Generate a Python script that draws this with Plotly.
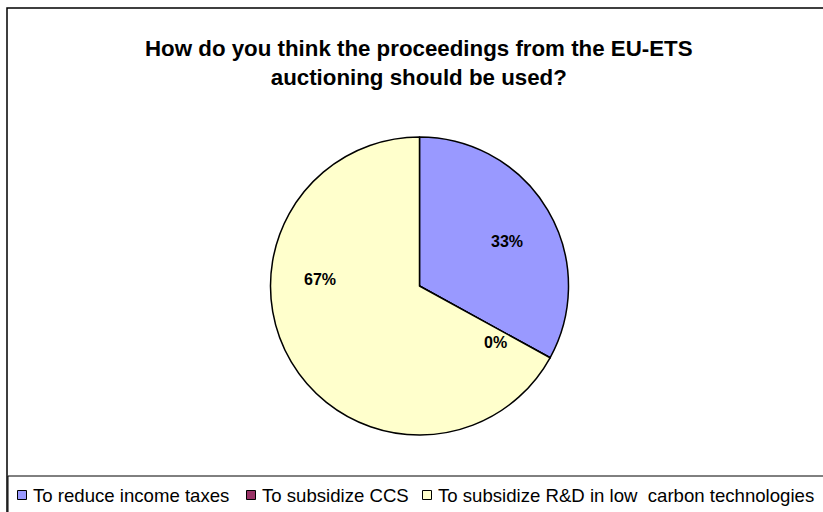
import math
import plotly.graph_objects as go

# Survey answers: how auction proceeds should be spent
categories = [
    "To reduce income taxes",
    "To subsidize CCS",
    "To subsidize R&D in low  carbon technologies",
]
shares = [33, 0, 67]  # percent of respondents
colors = ["#9999FF", "#993366", "#FFFFCC"]

title_lines = [
    "How do you think the proceedings from the EU-ETS",
    "auctioning should be used?",
]

W, H = 823, 512
FONT = "Arial, Liberation Sans, sans-serif"

# pie geometry in pixels
cx, cy, r = 419.5, 286.0, 149.0

def px(x):
    return x / W

def py(y):
    return 1 - y / H

fig = go.Figure()
fig.add_trace(go.Pie(
    labels=categories,
    values=shares,
    sort=False,
    direction="clockwise",
    rotation=0,
    marker=dict(colors=colors, line=dict(color="black", width=1.5)),
    textinfo="none",
    hoverinfo="label+value",
    showlegend=False,
    domain=dict(x=[px(cx - r), px(cx + r)], y=[py(cy + r), py(cy - r)]),
))

annotations = []

# percentage labels: angle (deg clockwise from 12 o'clock) and radial fraction
label_place = [(62.8, 0.66), (126.7, 0.64), (274.0, 0.67)]
for val, (ang, frac) in zip(shares, label_place):
    a = math.radians(ang)
    x = cx + frac * r * math.sin(a)
    y = cy - frac * r * math.cos(a)
    annotations.append(dict(
        x=px(x), y=py(y), xref="paper", yref="paper",
        text=f"<b>{val}%</b>", showarrow=False,
        font=dict(family=FONT, size=16, color="black"),
        xanchor="center", yanchor="middle",
    ))

# title
annotations.append(dict(
    x=px(419), y=py(63), xref="paper", yref="paper",
    text="<b>" + "<br>".join(title_lines) + "</b>", showarrow=False,
    font=dict(family=FONT, size=22.3, color="black"),
    xanchor="center", yanchor="middle", align="center",
))

# legend row
shapes = [
    dict(type="rect", xref="paper", yref="paper",
         x0=px(7), x1=px(840), y0=py(540), y1=py(8),
         line=dict(color="black", width=1.5), fillcolor="rgba(0,0,0,0)"),
    dict(type="rect", xref="paper", yref="paper",
         x0=px(8), x1=px(840), y0=py(540), y1=py(476),
         line=dict(color="black", width=1), fillcolor="rgba(0,0,0,0)"),
]
legend_x = [22, 251, 427]
legend_y = 495
for name, col, lx in zip(categories, colors, legend_x):
    shapes.append(dict(
        type="rect", xref="paper", yref="paper",
        x0=px(lx - 4.5), x1=px(lx + 4.5), y0=py(legend_y + 4.5), y1=py(legend_y - 4.5),
        line=dict(color="black", width=1), fillcolor=col,
    ))
    annotations.append(dict(
        x=px(lx + 9), y=py(legend_y), xref="paper", yref="paper",
        text=name.replace("&", "&amp;"), showarrow=False,
        font=dict(family=FONT, size=18.6, color="black"),
        xanchor="left", yanchor="middle",
    ))

fig.update_layout(
    width=W, height=H,
    margin=dict(l=0, r=0, t=0, b=0),
    paper_bgcolor="white",
    plot_bgcolor="white",
    annotations=annotations,
    shapes=shapes,
)

fig.write_html("out.html")
